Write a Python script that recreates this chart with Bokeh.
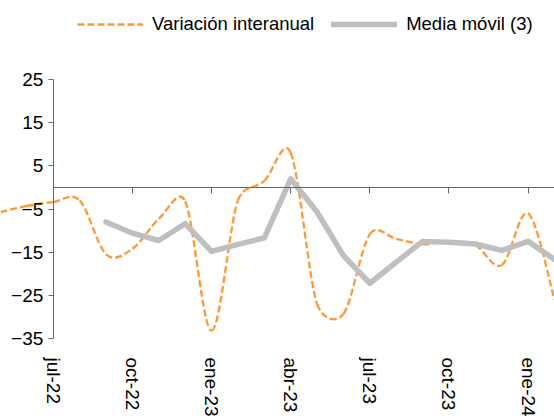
import math
from bokeh.plotting import figure
from bokeh.models import Range1d, LinearAxis, FixedTicker, Legend, LegendItem, ColumnDataSource
from bokeh.embed import file_html
from bokeh.resources import INLINE

# ---------------- data ----------------
months = ["may-22", "jun-22", "jul-22", "ago-22", "sep-22", "oct-22", "nov-22", "dic-22",
          "ene-23", "feb-23", "mar-23", "abr-23", "may-23", "jun-23", "jul-23", "ago-23",
          "sep-23", "oct-23", "nov-23", "dic-23", "ene-24", "feb-24"]
variacion_interanual = [-5.7, -4.3, -3.4, -3.0, -15.5, -14.2, -7.3, -3.2,
                        -33.2, -3.0, 1.5, 8.0, -27.0, -29.3, -10.8, -11.9,
                        -13.2, -12.5, -13.4, -18.0, -6.0, -26.0]
ma_months = months[4:]
media_movil = [-8.0, -10.6, -12.3, -8.4, -14.8, -13.2, -11.7, 2.0, -5.7, -15.8,
               -22.2, -17.3, -12.5, -12.7, -13.1, -14.6, -12.5, -16.7]
y_ticks = [-35, -25, -15, -5, 5, 15, 25]
x_tick_labels = ["jul-22", "oct-22", "ene-23", "abr-23", "jul-23", "oct-23", "ene-24"]

ORANGE = "#FF9933"
GREY = "#BFBFBF"
AXIS = "#666666"
FONT = "Liberation Sans"

W, H = 554, 416
TOP_PAD = 79           # pixels from page top to the "25" tick
BOT_PAD = 78           # pixels from the "-35" tick to page bottom
Y0, Y1 = -35, 25
PX_PER_UNIT = (H - TOP_PAD - BOT_PAD) / (Y1 - Y0)
Y_TOP = Y1 + TOP_PAD / PX_PER_UNIT
Y_BOT = Y0 - BOT_PAD / PX_PER_UNIT

x_idx = list(range(len(months)))
ma_idx = [months.index(m) for m in ma_months]

p = figure(width=W, height=H, output_backend="svg", toolbar_location=None,
           x_range=Range1d(0, len(months) - 1), y_range=Range1d(Y_BOT, Y_TOP),
           x_axis_location=None, y_axis_location=None,
           min_border_left=0, min_border_right=0,
           min_border_top=0, min_border_bottom=0)
p.outline_line_color = None
p.xgrid.visible = False
p.ygrid.visible = False
p.background_fill_color = "white"
p.border_fill_color = "white"

# ---- smoothed line (Excel-style bezier), control points computed in pixel space ----
kx = W / (len(months) - 1)
ky = PX_PER_UNIT
pts = [(x * kx, y * ky) for x, y in zip(x_idx, variacion_interanual)]
n = len(pts)
seg = dict(x0=[], y0=[], x1=[], y1=[], cx0=[], cy0=[], cx1=[], cy1=[])


def dist(a, b):
    return math.hypot(a[0] - b[0], a[1] - b[1])


for i in range(n - 1):
    p0 = pts[i - 1] if i > 0 else pts[i]
    p1 = pts[i]
    p2 = pts[i + 1]
    p3 = pts[i + 2] if i + 2 < n else pts[i + 1]
    d02, d12, d13 = dist(p0, p2), dist(p1, p2), dist(p1, p3)
    f1 = 1 / 6 if (d02 == 0 or d02 / 6 < d12 / 2) else d12 / (2 * d02)
    f2 = 1 / 6 if (d13 == 0 or d13 / 6 < d12 / 2) else d12 / (2 * d13)
    c1 = (p1[0] + (p2[0] - p0[0]) * f1, p1[1] + (p2[1] - p0[1]) * f1)
    c2 = (p2[0] - (p3[0] - p1[0]) * f2, p2[1] - (p3[1] - p1[1]) * f2)
    seg["x0"].append(x_idx[i]); seg["y0"].append(variacion_interanual[i])
    seg["x1"].append(x_idx[i + 1]); seg["y1"].append(variacion_interanual[i + 1])
    seg["cx0"].append(c1[0] / kx); seg["cy0"].append(c1[1] / ky)
    seg["cx1"].append(c2[0] / kx); seg["cy1"].append(c2[1] / ky)

r_var = p.bezier(x0="x0", y0="y0", x1="x1", y1="y1", cx0="cx0", cy0="cy0", cx1="cx1", cy1="cy1",
                 source=ColumnDataSource(seg), line_color=ORANGE, line_width=2.3, line_dash="7 3")

r_ma = p.line(ma_idx, media_movil, line_color=GREY, line_width=5.5,
              line_cap="round", line_join="round")

# ---------------- axes ----------------
jul_pos = months.index("jul-22")
tick_pos = [months.index(m) for m in x_tick_labels]

yaxis = LinearAxis(fixed_location=jul_pos, bounds=(Y0, Y1),
                   ticker=FixedTicker(ticks=y_ticks))
yaxis.axis_line_color = AXIS
yaxis.major_tick_line_color = AXIS
yaxis.major_tick_out = 5
yaxis.major_tick_in = 0
yaxis.minor_tick_line_color = None
yaxis.major_label_standoff = 5
yaxis.major_label_text_font = FONT
yaxis.major_label_text_font_size = "19px"
yaxis.major_label_text_color = "black"
p.add_layout(yaxis, "left")

zero_axis = LinearAxis(fixed_location=0, bounds=(jul_pos, len(months) - 1),
                       ticker=FixedTicker(ticks=tick_pos))
zero_axis.axis_line_color = AXIS
zero_axis.major_tick_line_color = AXIS
zero_axis.major_tick_out = 6
zero_axis.major_tick_in = 0
zero_axis.minor_tick_line_color = None
zero_axis.major_label_text_alpha = 0
zero_axis.major_label_text_font_size = "1px"
p.add_layout(zero_axis, "below")

xlab = LinearAxis(fixed_location=Y0, ticker=FixedTicker(ticks=tick_pos),
                  major_label_overrides={pos: lab for pos, lab in zip(tick_pos, x_tick_labels)})
xlab.axis_line_color = None
xlab.major_tick_line_color = None
xlab.minor_tick_line_color = None
xlab.major_label_orientation = "vertical"
xlab.major_label_standoff = 13
xlab.major_label_text_font = FONT
xlab.major_label_text_font_size = "19px"
xlab.major_label_text_color = "black"
p.add_layout(xlab, "below")

# ---------------- legend ----------------
legend = Legend(items=[LegendItem(label="Variación interanual", renderers=[r_var]),
                       LegendItem(label="Media móvil (3)", renderers=[r_ma])],
                orientation="horizontal", location=(77, H - 35),
                glyph_width=66, glyph_height=20, label_height=20, label_standoff=9,
                spacing=17, padding=0, margin=0,
                label_text_font=FONT, label_text_font_size="18.5px",
                label_text_color="black",
                border_line_color=None, background_fill_alpha=0)
p.add_layout(legend, "center")

open("out.html", "w").write(file_html(p, INLINE))
